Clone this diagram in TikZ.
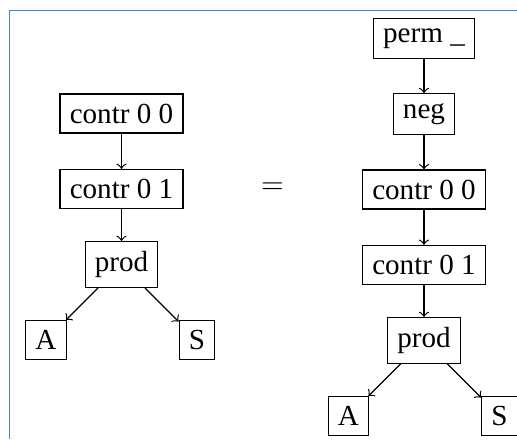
\documentclass[tikz,border=0pt]{standalone}
\usepackage{fontspec}
\setmainfont{Liberation Serif}
\usetikzlibrary{positioning}
\definecolor{framecol}{RGB}{70,130,220}

\begin{document}
\begin{tikzpicture}[x=0.3436pt, y=-0.3436pt, node distance=25.94pt, on grid, every node/.style={rectangle, draw}]
    \useasboundingbox (0,0) rectangle (517,439);
    \draw[framecol, line width=0.35pt] (9.5,439) -- (9.5,10) -- (517,10);
    % left tree
    \node (c00) at (121.5,113.5) {contr 0 0};
    \node (c01) [below=of c00] {contr 0 1};
    \node (pr) [below=of c01] {prod};
    \node (a) [below left=25.94pt and 25.94pt of pr] {A};
    \node (s) [below right=25.94pt and 25.94pt of pr] {S};
    \path[->] (c00) edge (c01);
    \path[->] (c01) edge (pr);
    \path[->] (pr) edge (a);
    \path[->] (pr) edge (s);
    \node[draw=none] (eq) at (272.5,188) {$=$};
    % right tree
    \node (pm) at (424,38.5) {perm \_};
    \node (ng) [below=of pm] {neg};
    \node (rc00) [below=of ng] {contr 0 0};
    \node (rc01) [below=of rc00] {contr 0 1};
    \node (rpr) [below=of rc01] {prod};
    \node (ra) [below left=25.94pt and 25.94pt of rpr] {A};
    \node (rs) [below right=25.94pt and 25.94pt of rpr] {S};
    \path[->] (pm) edge (ng);
    \path[->] (ng) edge (rc00);
    \path[->] (rc00) edge (rc01);
    \path[->] (rc01) edge (rpr);
    \path[->] (rpr) edge (ra);
    \path[->] (rpr) edge (rs);
\end{tikzpicture}
\end{document}
